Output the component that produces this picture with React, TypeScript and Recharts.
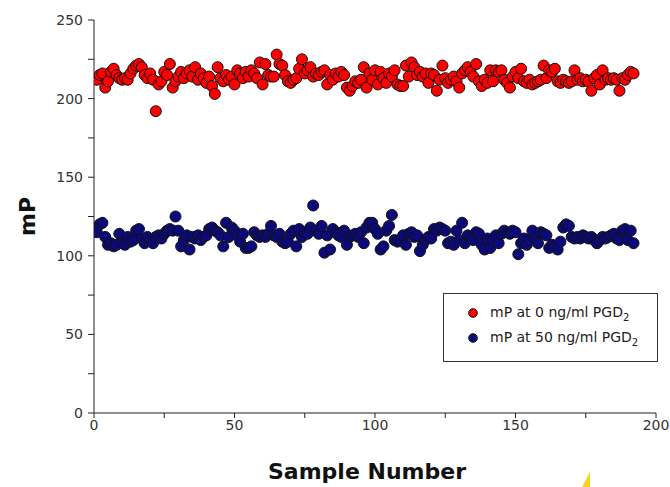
import React from 'react';
import { ScatterChart, Scatter, XAxis, YAxis, Legend, Label } from 'recharts';

// mP readings, sample 1..192
const mpAt0 = [
  212, 215, 216, 207, 211, 217, 219, 215, 213, 212,
  213, 212, 216, 219, 221, 222, 220, 215, 213, 216,
  212, 192, 209, 211, 217, 215, 222, 207, 211, 214,
  217, 213, 216, 218, 214, 220, 212, 216, 213, 210,
  214, 208, 203, 220, 213, 211, 215, 212, 214, 209,
  218, 216, 213, 217, 214, 218, 216, 213, 223, 209,
  222, 215, 214, 214, 228, 222, 221, 215, 211, 210,
  212, 213, 219, 225, 216, 218, 220, 214, 216, 215,
  217, 218, 209, 215, 212, 216, 214, 217, 215, 207,
  205, 208, 211, 210, 212, 220, 207, 216, 212, 218,
  209, 217, 213, 210, 216, 214, 218, 209, 208, 208,
  221, 214, 223, 220, 215, 217, 214, 216, 210, 216,
  215, 205, 212, 221, 213, 210, 212, 214, 211, 207,
  216, 218, 220, 217, 214, 222, 211, 208, 212, 210,
  218, 211, 218, 217, 218, 212, 210, 207, 214, 217,
  213, 219, 211, 210, 212, 209, 210, 211, 212, 221,
  213, 218, 217, 219, 211, 210, 212, 211, 210, 211,
  218, 212, 213, 211, 212, 211, 205, 213, 215, 209,
  218, 212, 213, 212, 213, 212, 205, 213, 212, 215,
  217, 216,
];

const mpAt50 = [
  115, 120, 121, 112, 107, 108, 106, 107, 114, 108,
  107, 112, 109, 110, 116, 117, 111, 108, 112, 110,
  108, 112, 113, 111, 114, 116, 117, 116, 125, 116,
  106, 110, 113, 104, 112, 111, 113, 110, 112, 113,
  117, 118, 116, 115, 113, 106, 121, 112, 118, 116,
  113, 109, 114, 105, 105, 106, 115, 113, 112, 113,
  112, 114, 119, 113, 112, 114, 109, 108, 109, 114,
  116, 106, 117, 112, 115, 114, 118, 132, 116, 114,
  119, 102, 113, 104, 117, 115, 113, 112, 116, 107,
  112, 113, 114, 112, 115, 108, 118, 121, 121, 117,
  114, 104, 106, 116, 119, 126, 110, 109, 110, 113,
  107, 114, 115, 112, 113, 103, 107, 110, 112, 111,
  117, 116, 118, 117, 116, 108, 109, 107, 116, 110,
  121, 108, 113, 112, 110, 115, 114, 107, 104, 111,
  105, 110, 113, 108, 114, 116, 115, 114, 116, 115,
  101, 108, 111, 107, 110, 116, 111, 108, 115, 114,
  113, 105, 107, 106, 104, 109, 118, 120, 119, 112,
  111, 112, 111, 113, 112, 111, 112, 110, 108, 110,
  112, 111, 112, 113, 114, 111, 110, 116, 117, 110,
  116, 108,
];

const xTicks = [0, 25, 50, 75, 100, 125, 150, 175, 200];
const yTicks = [0, 25, 50, 75, 100, 125, 150, 175, 200, 225, 250];

const FONT = '"DejaVu Sans", sans-serif';
const RED = '#ff0000';
const NAVY = '#0c0a7a';

const toPoints = (vals: number[]) => vals.map((mp, i) => ({ sample: i + 1, mp }));

const Dot = (props: any) => (
  <circle cx={props.cx} cy={props.cy} r={5.5} fill={props.fill} stroke="#111" strokeWidth={1} />
);

const majorOnly = (v: number) => (v % 50 === 0 ? String(v) : '');

const LegendBox = () => (
  <div
    style={{
      border: '1px solid #333',
      width: 213,
      height: 67,
      fontFamily: FONT,
      fontSize: 14,
      color: '#222',
      background: '#fff',
      boxSizing: 'content-box',
    }}
  >
    {[
      { color: RED, text: 'mP at 0 ng/ml PGD' },
      { color: NAVY, text: 'mP at 50 ng/ml PGD' },
    ].map((it, i) => (
      <div key={i} style={{ position: 'absolute', left: 25, top: 11 + i * 25, display: 'flex', alignItems: 'center' }}>
        <svg width={10} height={10} style={{ marginRight: 12 }}>
          <circle cx={5} cy={5} r={4.3} fill={it.color} stroke="#111" strokeWidth={1} />
        </svg>
        <span>
          {it.text}
          <sub style={{ fontSize: 10 }}>2</sub>
        </span>
      </div>
    ))}
  </div>
);

export default function App() {
  return (
    <div style={{ position: 'absolute', left: 0, top: 0, width: 670, height: 487, background: '#fff' }}>
      <ScatterChart width={670} height={487} margin={{ top: 20, right: 14, bottom: 0, left: 34 }}>
        <XAxis
          type="number"
          dataKey="sample"
          domain={[0, 200]}
          ticks={xTicks}
          tickFormatter={majorOnly}
          height={74}
          stroke="#222"
          tickSize={5}
          tick={{ fill: '#333', fontFamily: FONT, fontSize: 14 }}
          allowDataOverflow
        >
          <Label
            value="Sample Number"
            position="insideBottom"
            offset={8}
            dx={-8}
            style={{ fontFamily: FONT, fontSize: 22, fontWeight: 'bold', fill: '#111' }}
          />
        </XAxis>
        <YAxis
          type="number"
          dataKey="mp"
          domain={[0, 250]}
          ticks={yTicks}
          tickFormatter={majorOnly}
          width={60}
          stroke="#222"
          tickSize={6}
          tickMargin={5}
          tick={{ fill: '#333', fontFamily: FONT, fontSize: 14 }}
        >
          <Label
            value="mP"
            position="center"
            angle={-90}
            dx={-37}
            style={{ fontFamily: FONT, fontSize: 22, fontWeight: 'bold', fill: '#111', textAnchor: 'middle' }}
          />
        </YAxis>
        <Legend
          layout="horizontal"
          verticalAlign="middle"
          align="center"
          content={() => <LegendBox />}
          wrapperStyle={{ left: 443, top: 293, width: 215, height: 69 }}
        />
        <Scatter name="mP at 0 ng/ml PGD2" data={toPoints(mpAt0)} fill={RED} shape={Dot} isAnimationActive={false} />
        <Scatter name="mP at 50 ng/ml PGD2" data={toPoints(mpAt50)} fill={NAVY} shape={Dot} isAnimationActive={false} />
      </ScatterChart>
      {/* small yellow fragment at the bottom edge of the original figure */}
      <svg width={670} height={487} style={{ position: 'absolute', left: 0, top: 0, pointerEvents: 'none' }}>
        <polygon points="582,487 590,487 590,472" fill="#f4d31a" />
      </svg>
    </div>
  );
}
